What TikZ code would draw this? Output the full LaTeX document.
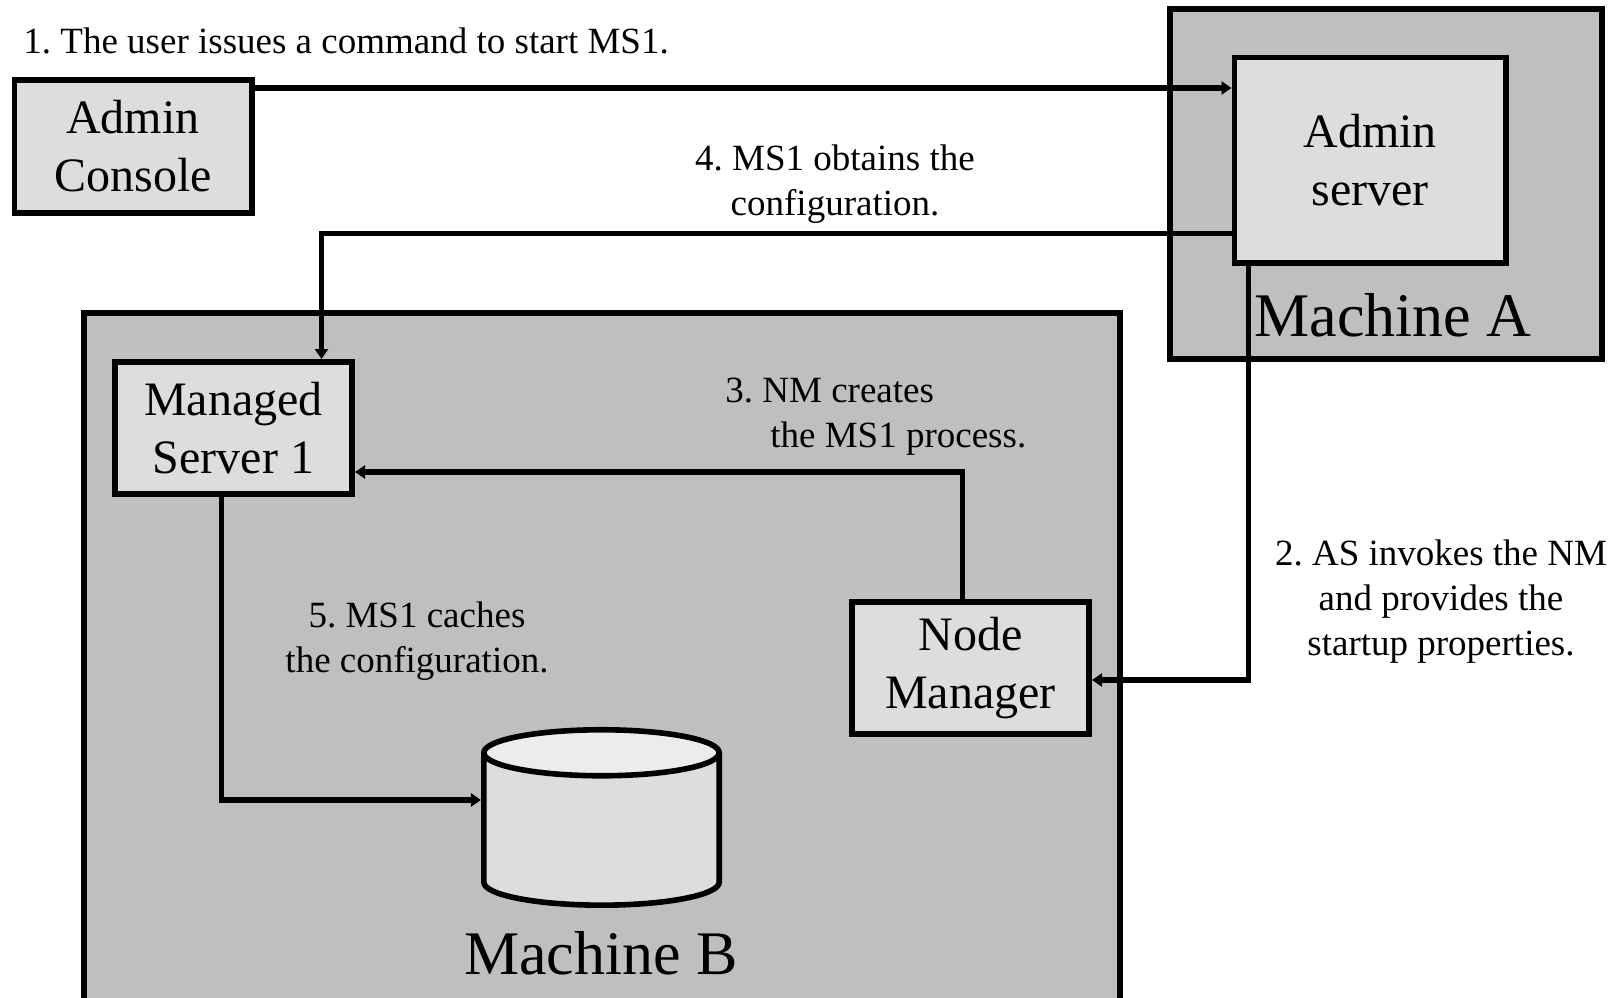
\documentclass[tikz,border=0pt]{standalone}
\usepackage{fontspec}
\setmainfont{Liberation Serif}
\frenchspacing
\usetikzlibrary{arrows.meta, shapes.geometric}
\definecolor{machinegray}{gray}{0.75}
\definecolor{boxgray}{gray}{0.867}
\definecolor{disktop}{gray}{0.925}

\begin{document}
\begin{tikzpicture}[x=0.5pt, y=-0.5pt,
    machine/.style={draw, line width=2.8pt, fill=machinegray, inner sep=0pt},
    server/.style={draw, line width=2.8pt, fill=boxgray, align=center, inner sep=0pt,
        minimum width=118.7pt, minimum height=66.2pt, font=\fontsize{24}{29}\selectfont},
    note/.style={inner sep=0pt, font=\fontsize{18.5}{22.5}\selectfont},
    bigtext/.style={inner sep=0pt, font=\fontsize{31}{37}\selectfont},
    flow/.style={line width=2.8pt, -{Triangle[length=5pt, width=6.5pt]}}]
    \useasboundingbox (0,0) rectangle (1615,997);

    % Machines
    \node[machine, minimum width=216pt, minimum height=175pt] (machA) at (1386,184) {};
    \node[machine, minimum width=518pt, minimum height=352pt] (machB) at (602,665) {};
    \node[bigtext] (nameA) at (1393,315) {Machine A};
    \node[bigtext] (nameB) at (601,953) {Machine B};

    % Servers
    \node[server, minimum height=66.7pt] (console) at (133,146.5) {Admin\\Console};
    \node[server, minimum width=135.7pt, minimum height=102.7pt] (admin) at (1370,160) {Admin\\server};
    \node[server] (ms1) at (233.5,428) {Managed\\Server 1};
    \node[server] (nm) at (970.5,668) {Node\\Manager};

    % Configuration store
    \node[cylinder, shape border rotate=90, aspect=2.3, inner sep=5pt, draw, line width=2.8pt,
        cylinder uses custom fill, cylinder body fill=boxgray, cylinder end fill=disktop,
        minimum width=117.7pt, minimum height=87.7pt] (store) at (601.5,835) {};

    % Steps
    \node[note, anchor=west] (step1) at (23,41) {1. The user issues a command to start MS1.};
    \node[note, align=center] (step2) at (1441,602) {2. AS invokes the NM\\and provides the\\startup properties.};
    \node[note, align=left, anchor=west] (step3) at (725,417) {3. NM creates\\\hspace*{22.5pt}the MS1 process.};
    \node[note, align=center] (step4) at (835,184) {4. MS1 obtains the\\configuration.};
    \node[note, align=center] (step5) at (417,641) {5. MS1 caches\\the configuration.};

    % Connectors
    \draw[flow] ([yshift=-5.5pt]console.north east) -- ([yshift=-5.5pt]console.north east -| admin.west);
    \draw[flow] ([xshift=8.5pt]admin.south west) |- ([yshift=-6pt]nm.east);
    \draw[flow] ([xshift=-4pt]nm.north) |- ([yshift=-22pt]ms1.east);
    \draw[flow] ([yshift=16pt]admin.south west) -| ([xshift=44pt]ms1.north);
    \draw[flow] ([xshift=-6pt]ms1.south) |- ([yshift=17.5pt]store.west);
\end{tikzpicture}
\end{document}
